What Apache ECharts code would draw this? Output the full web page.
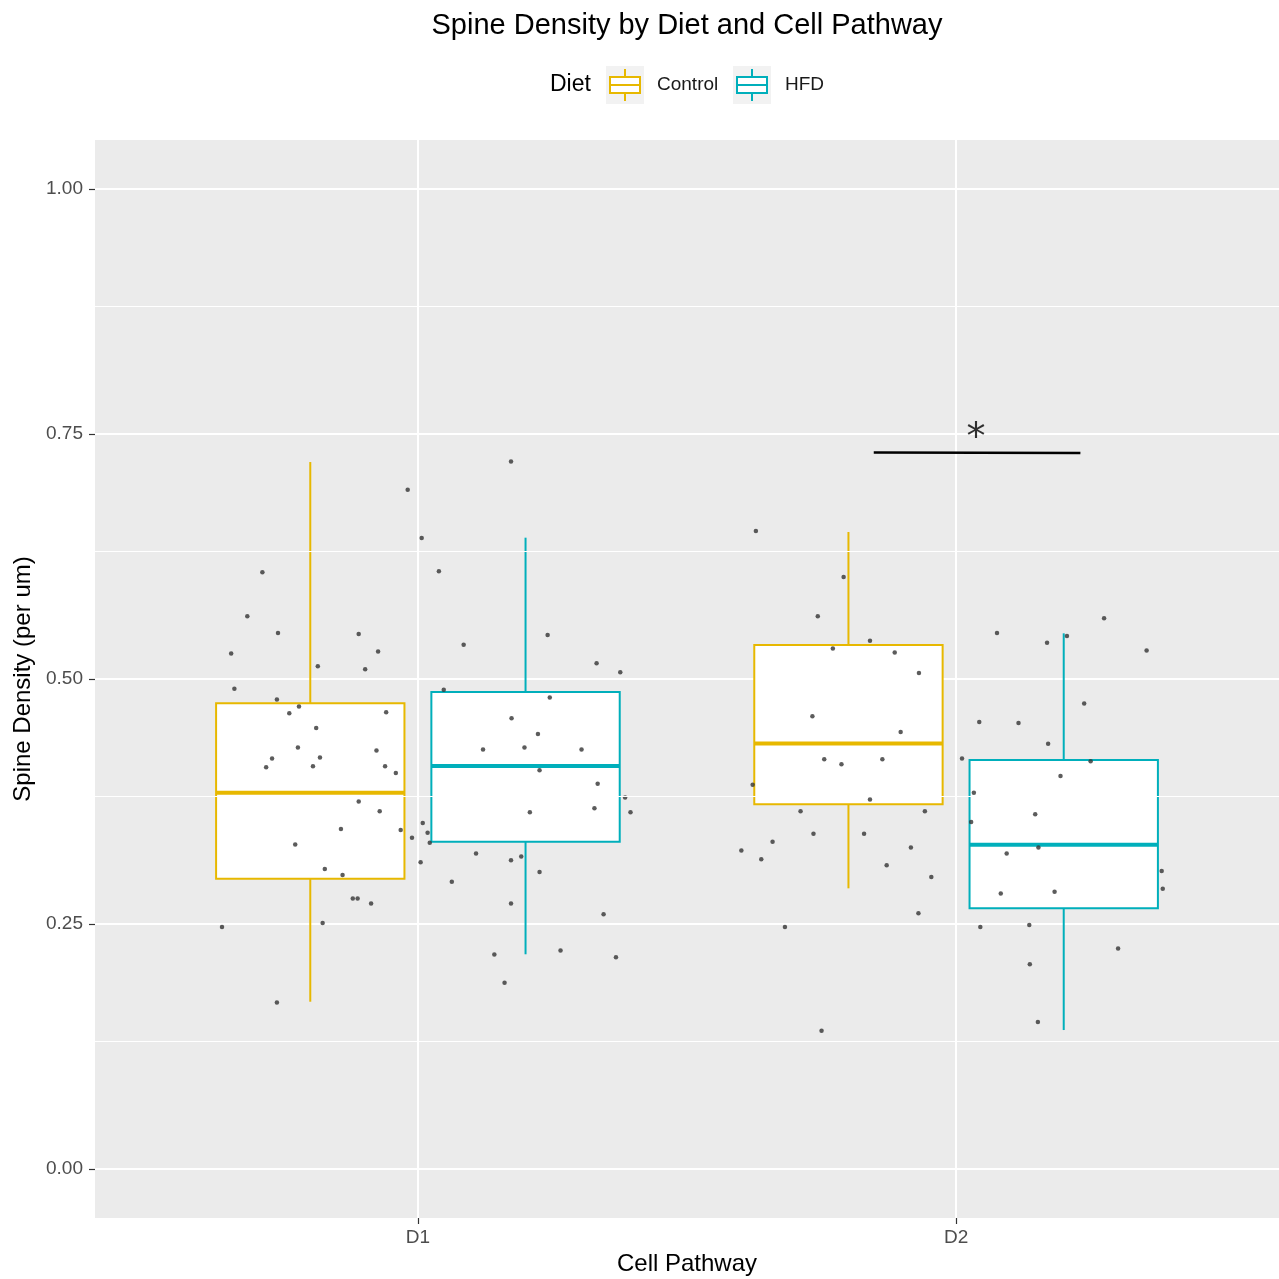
<!DOCTYPE html>
<html>
<head>
<meta charset="utf-8">
<script src="https://cdn.jsdelivr.net/npm/echarts@6.0.0/dist/echarts.min.js"></script>
<style>
  html, body { margin: 0; padding: 0; background: #fff; }
  #main { width: 1279px; height: 1279px; }
</style>
</head>
<body>
<div id="main"></div>
<script>
// categories and groups
var pathways = ['D1', 'D2'];
var diets = ['Control', 'HFD'];
var dietColors = ['#E7B800', '#00AFBB'];
var yTicks = [0, 0.25, 0.5, 0.75, 1];
var yMinor = [0.125, 0.375, 0.625, 0.875];

// box stats per diet: [pathway index, low, q1, median, q3, high]
var controlBoxes = [
  [0, 0.1707, 0.2962, 0.3840, 0.4752, 0.7214],
  [1, 0.2864, 0.3721, 0.4342, 0.5347, 0.6500]
];
var hfdBoxes = [
  [0, 0.2191, 0.3340, 0.4112, 0.4867, 0.6442],
  [1, 0.1418, 0.2660, 0.3309, 0.4173, 0.5466]
];

// jittered observations: horizontal jitter from pathway centre, and spine density
var d1Jitter = [-0.019, 0.007, -0.289, -0.317, -0.260, -0.347, -0.110, -0.074, -0.186, -0.098,
  -0.341, -0.262, -0.221, -0.239, -0.059, -0.189, -0.223, -0.271, -0.282, -0.182,
  -0.195, -0.077, -0.061, -0.041, -0.110, -0.071, -0.143, -0.032, 0.009, 0.018,
  0.022, -0.011, -0.228, 0.005, -0.173, -0.140, -0.121, -0.112, -0.087, -0.364,
  -0.177, -0.262, 0.173, 0.039, 0.085, 0.241, 0.332, 0.376, 0.048, 0.245,
  0.174, 0.223, 0.121, 0.198, 0.304, 0.226, 0.334, 0.385, 0.328, 0.395,
  0.208, 0.108, 0.173, 0.192, 0.226, 0.063, 0.173, 0.345, 0.142, 0.265,
  0.368, 0.161];
var d1Values = [0.693, 0.644, 0.609, 0.564, 0.547, 0.526, 0.546, 0.528, 0.513, 0.510,
  0.490, 0.479, 0.472, 0.465, 0.466, 0.450, 0.430, 0.419, 0.410, 0.420,
  0.411, 0.427, 0.411, 0.404, 0.375, 0.365, 0.347, 0.346, 0.353, 0.343,
  0.333, 0.338, 0.331, 0.313, 0.306, 0.300, 0.276, 0.276, 0.271, 0.247,
  0.251, 0.170, 0.722, 0.610, 0.535, 0.545, 0.516, 0.507, 0.489, 0.481,
  0.460, 0.444, 0.428, 0.430, 0.428, 0.407, 0.393, 0.379, 0.368, 0.364,
  0.364, 0.322, 0.315, 0.319, 0.303, 0.293, 0.271, 0.260, 0.219, 0.223,
  0.216, 0.190];
var d2Jitter = [-0.372, -0.209, -0.257, -0.160, -0.229, -0.114, -0.069, -0.267, -0.103, -0.245,
  -0.213, -0.137, -0.378, -0.160, -0.289, -0.058, -0.265, -0.171, -0.341, -0.399,
  -0.084, -0.362, -0.129, -0.046, -0.070, -0.318, -0.250, 0.275, 0.076, 0.169,
  0.206, 0.354, 0.238, 0.043, 0.116, 0.171, 0.011, 0.250, 0.194, 0.033,
  0.147, 0.028, 0.153, 0.094, 0.382, 0.384, 0.083, 0.183, 0.045, 0.136,
  0.301, 0.137, 0.152];
var d2Values = [0.651, 0.604, 0.564, 0.539, 0.531, 0.527, 0.506, 0.462, 0.446, 0.418,
  0.413, 0.418, 0.392, 0.377, 0.365, 0.365, 0.342, 0.342, 0.334, 0.325,
  0.328, 0.316, 0.310, 0.298, 0.261, 0.247, 0.141, 0.562, 0.547, 0.537,
  0.544, 0.529, 0.475, 0.456, 0.455, 0.434, 0.419, 0.416, 0.401, 0.384,
  0.362, 0.354, 0.328, 0.322, 0.304, 0.286, 0.281, 0.283, 0.247, 0.249,
  0.225, 0.209, 0.150];

// significance bracket between D2 groups
var sigBar = [[1.847, 0.731], [2.231, 0.7305]];
var sigMark = [2.037, 0.745];
var sigLabel = '*';

var dodge = 0.2;
var boxWidth = 0.35;
var font = '"Liberation Sans", Arial, sans-serif';

var chart = echarts.init(document.getElementById('main'));

function boxSeries(name, boxes, color) {
  return {
    name: name,
    type: 'custom',
    z: 3,
    data: boxes.map(function (b) {
      var off = name === 'Control' ? -dodge : dodge;
      return [b[0] + 1 + off, b[1], b[2], b[3], b[4], b[5]];
    }),
    encode: { x: 0, y: [1, 2, 3, 4, 5] },
    renderItem: function (params, api) {
      var x = api.value(0);
      var lo = api.coord([x, api.value(1)]);
      var q1 = api.coord([x, api.value(2)]);
      var med = api.coord([x, api.value(3)]);
      var q3 = api.coord([x, api.value(4)]);
      var hi = api.coord([x, api.value(5)]);
      var w = api.size([boxWidth, 0])[0];
      return {
        type: 'group',
        children: [
          { type: 'line', shape: { x1: hi[0], y1: hi[1], x2: q3[0], y2: q3[1] }, style: { stroke: color, lineWidth: 2 } },
          { type: 'line', shape: { x1: q1[0], y1: q1[1], x2: lo[0], y2: lo[1] }, style: { stroke: color, lineWidth: 2 } },
          { type: 'rect', shape: { x: q3[0] - w / 2, y: q3[1], width: w, height: q1[1] - q3[1] }, style: { fill: '#fff', stroke: color, lineWidth: 2 } },
          { type: 'line', shape: { x1: med[0] - w / 2, y1: med[1], x2: med[0] + w / 2, y2: med[1] }, style: { stroke: color, lineWidth: 4 } }
        ]
      };
    }
  };
}

var points = [];
for (var i = 0; i < d1Values.length; ++i) points.push([1 + d1Jitter[i], d1Values[i]]);
for (var j = 0; j < d2Values.length; ++j) points.push([2 + d2Jitter[j], d2Values[j]]);

// legend drawn by hand in ggplot style
var legendGraphics = [
  { type: 'text', left: 550, top: 73, style: { text: 'Diet', font: '23px ' + font, fill: '#000' } }
];
var keyX = [606, 733];
var labelX = [657, 785];
for (var k = 0; k < diets.length; ++k) {
  var kx = keyX[k], c = dietColors[k];
  legendGraphics.push(
    { type: 'rect', shape: { x: kx, y: 66, width: 38, height: 38 }, style: { fill: '#F2F2F2' } },
    { type: 'line', shape: { x1: kx + 19, y1: 69, x2: kx + 19, y2: 101 }, style: { stroke: c, lineWidth: 2 } },
    { type: 'rect', shape: { x: kx + 4, y: 77, width: 30, height: 16 }, style: { fill: '#fff', stroke: c, lineWidth: 2 } },
    { type: 'line', shape: { x1: kx + 4, y1: 85, x2: kx + 34, y2: 85 }, style: { stroke: c, lineWidth: 2 } },
    { type: 'text', left: labelX[k], top: 75, style: { text: diets[k], font: '19px ' + font, fill: '#1a1a1a' } }
  );
}

var option = {
  backgroundColor: '#fff',
  animation: false,
  textStyle: { fontFamily: font },
  title: {
    text: 'Spine Density by Diet and Cell Pathway',
    left: 687,
    top: 11,
    padding: 0,
    textAlign: 'center',
    textStyle: { fontSize: 29, fontWeight: 'normal', color: '#000' }
  },
  graphic: legendGraphics,
  grid: {
    left: 95,
    right: 0,
    top: 140,
    bottom: 61,
    outerBoundsMode: 'none',
    show: true,
    backgroundColor: '#EBEBEB',
    borderWidth: 0
  },
  xAxis: {
    type: 'value',
    min: 0.4,
    max: 2.6,
    name: 'Cell Pathway',
    nameLocation: 'middle',
    nameGap: 33,
    nameTextStyle: { fontSize: 24, color: '#000' },
    axisLine: { show: false, onZero: false },
    axisTick: { show: true, customValues: [1, 2], length: 6, lineStyle: { color: '#333', width: 1.2 } },
    axisLabel: {
      customValues: [1, 2],
      margin: 10,
      fontSize: 19,
      color: '#4D4D4D',
      formatter: function (v) { return pathways[Math.round(v) - 1]; }
    },
    splitLine: { show: true, lineStyle: { color: '#fff', width: 2 } }
  },
  yAxis: {
    type: 'value',
    min: -0.05,
    max: 1.05,
    name: 'Spine Density (per um)',
    nameLocation: 'middle',
    nameGap: 57,
    nameRotate: 90,
    nameTextStyle: { fontSize: 24, color: '#000' },
    axisLine: { show: false, onZero: false },
    axisTick: { show: true, customValues: yTicks, length: 6, lineStyle: { color: '#333', width: 1.2 } },
    axisLabel: {
      customValues: yTicks,
      margin: 12,
      fontSize: 19,
      color: '#4D4D4D',
      formatter: function (v) { return v.toFixed(2); }
    },
    splitLine: { show: true, lineStyle: { color: '#fff', width: 2 } }
  },
  series: [
    {
      name: 'minor',
      type: 'line',
      data: [],
      z: 1,
      markLine: {
        silent: true,
        symbol: 'none',
        label: { show: false },
        lineStyle: { color: '#fff', width: 1, type: 'solid' },
        data: yMinor.map(function (v) { return { yAxis: v }; })
      }
    },
    boxSeries('Control', controlBoxes, dietColors[0]),
    boxSeries('HFD', hfdBoxes, dietColors[1]),
    {
      name: 'points',
      type: 'scatter',
      z: 4,
      symbolSize: 4.5,
      itemStyle: { color: '#333' },
      data: points
    },
    {
      name: 'sig',
      type: 'line',
      z: 4,
      symbol: 'none',
      lineStyle: { color: '#000', width: 2.5 },
      data: sigBar
    },
    {
      name: 'sigText',
      type: 'scatter',
      z: 4,
      symbolSize: 0,
      data: [sigMark],
      label: {
        show: true,
        position: 'inside',
        formatter: sigLabel,
        fontSize: 38,
        fontFamily: '"DejaVu Sans", sans-serif',
        color: '#000'
      }
    }
  ]
};

chart.setOption(option);
</script>
</body>
</html>
